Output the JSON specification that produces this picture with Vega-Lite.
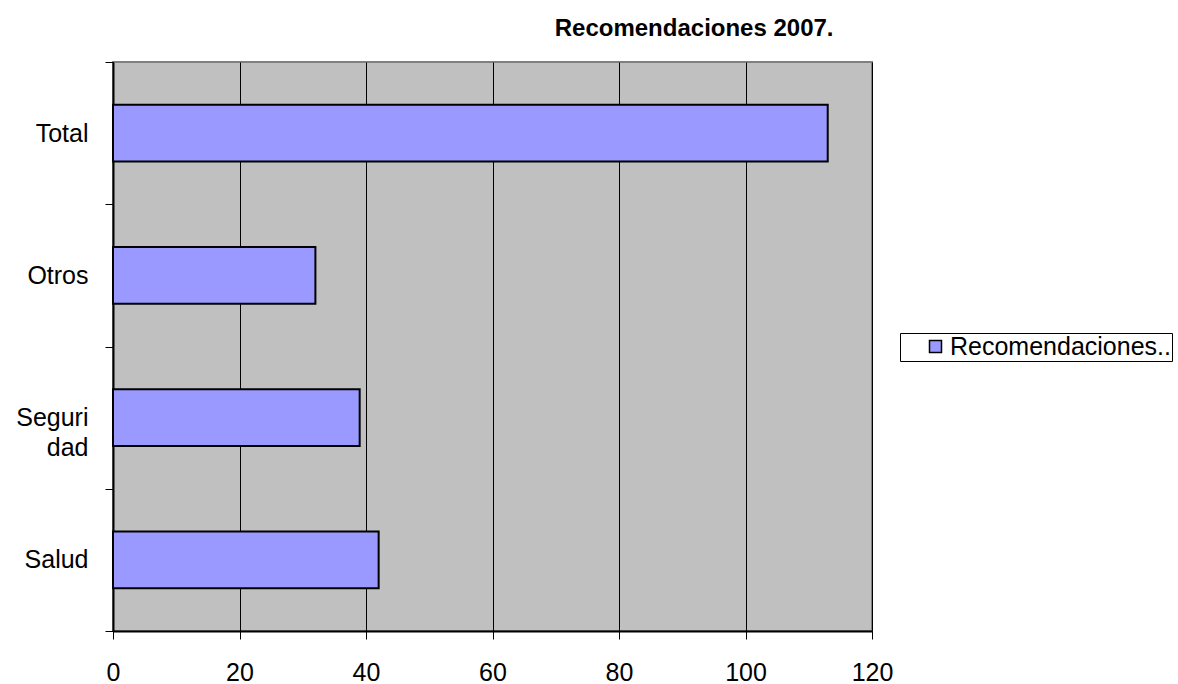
{
  "$schema": "https://vega.github.io/schema/vega-lite/v6.json",
  "autosize": {"type": "none"},
  "width": 759,
  "height": 569,
  "padding": {"left": 113, "top": 62, "right": 306, "bottom": 53},
  "background": "white",
  "title": {
    "text": "Recomendaciones 2007.",
    "anchor": "start",
    "dx": 539,
    "offset": 9,
    "font": "Liberation Sans",
    "fontSize": 24,
    "fontWeight": "bold",
    "color": "black"
  },
  "data": {
    "values": [
      {"categoria": "Total", "valor": 113, "serie": "Recomendaciones.."},
      {"categoria": "Otros", "valor": 32, "serie": "Recomendaciones.."},
      {"categoria": "Seguridad", "valor": 39, "serie": "Recomendaciones.."},
      {"categoria": "Salud", "valor": 42, "serie": "Recomendaciones.."}
    ]
  },
  "mark": {"type": "bar", "stroke": "black", "strokeWidth": 2, "height": {"band": 0.4}},
  "encoding": {
    "y": {
      "field": "categoria",
      "type": "nominal",
      "sort": ["Total", "Otros", "Seguridad", "Salud"],
      "scale": {"paddingInner": 0, "paddingOuter": 0},
      "axis": {
        "title": null,
        "tickBand": "extent",
        "tickSize": 8,
        "tickColor": "black",
        "domainColor": "black",
        "domainWidth": 2,
        "labelFont": "Liberation Sans",
        "labelFontSize": 25,
        "labelColor": "black",
        "labelPadding": 17,
        "labelLineHeight": 30,
        "labelExpr": "datum.value == 'Seguridad' ? ['Seguri', 'dad\u00a0\u00a0'] : datum.value",
        "grid": false
      }
    },
    "x": {
      "field": "valor",
      "type": "quantitative",
      "scale": {"domain": [0, 120], "nice": false},
      "axis": {
        "title": null,
        "values": [0, 20, 40, 60, 80, 100, 120],
        "tickSize": 8,
        "tickColor": "black",
        "domainColor": "black",
        "domainWidth": 2,
        "grid": true,
        "gridColor": "black",
        "gridOpacity": 1,
        "gridWidth": 1,
        "labelFont": "Liberation Sans",
        "labelFontSize": 25,
        "labelColor": "black",
        "labelBaseline": "alphabetic",
        "labelPadding": 41,
        "labelFlush": false
      }
    },
    "color": {
      "field": "serie",
      "type": "nominal",
      "scale": {"range": ["#9999ff"]},
      "legend": {
        "title": null,
        "orient": "none",
        "legendX": 787,
        "legendY": 271,
        "strokeColor": "black",
        "padding": 1,
        "symbolType": "square",
        "symbolSize": 144,
        "symbolStrokeColor": "black",
        "symbolStrokeWidth": 1.5,
        "symbolOffset": 22,
        "labelFont": "Liberation Sans",
        "labelFontSize": 25,
        "labelColor": "black",
        "labelOffset": 2,
        "labelLimit": 600,
        "labelExpr": "datum.label + '\u2003\u2003'"
      }
    }
  },
  "config": {
    "view": {"fill": "#c0c0c0", "stroke": "#808080", "strokeWidth": 2}
  }
}
